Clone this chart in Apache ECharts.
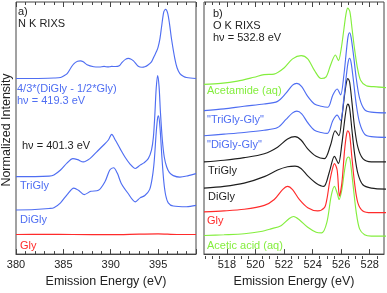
<!DOCTYPE html>
<html><head><meta charset="utf-8">
<script src="https://cdn.jsdelivr.net/npm/echarts@6/dist/echarts.min.js"></script>
<style>html,body{margin:0;padding:0;background:#fff}#c{width:387px;height:293px}</style>
</head><body><div id="c"></div>
<script>
// Panel a) N K RIXS — [emission energy (eV), offset intensity]
const nDiff = [[380,179],[382,179],[384,179.5],[384.7,180],[385.1,182],[385.4,184],[385.8,190],[386.1,194],[386.5,196.5],[386.8,197],[387.1,196],[387.5,193],[388.2,191],[388.8,190.7],[389.3,191.3],[389.7,190.8],[390.1,191.3],[390.5,191.2],[390.9,192],[391.2,195.5],[391.55,198.5],[391.86,199.5],[392.1,199],[392.4,197],[392.9,191.5],[393.3,190.5],[393.6,191],[393.9,192.5],[394.3,196],[394.6,202],[394.85,207],[395,211],[395.2,220],[395.37,232],[395.6,247],[395.79,249.5],[396,246],[396.2,235],[396.42,219],[396.77,199],[397,190],[397.3,184],[397.7,181],[398,180],[399,179]];
const nTriGly = [[380,79],[382,79],[383.5,79.5],[384,80.7],[384.7,85.7],[385.4,93],[386,97.3],[386.5,96.3],[387.1,94],[387.8,97.3],[388.5,104],[389.2,110.7],[389.75,116.3],[390.1,122],[390.5,116],[391,107.3],[391.5,99],[392,92.3],[392.6,87.3],[393.1,90.7],[393.5,93],[393.96,97.3],[394.3,106],[394.5,119],[394.65,141],[394.8,169],[394.95,182],[395.1,171],[395.25,144],[395.45,116],[395.65,99],[395.9,89],[396.2,83],[396.6,80],[397.3,78.5],[398.2,80],[399,82]];
const nDiGly = [[380,45],[382,45.5],[383.5,46.5],[384,47.3],[384.7,52.3],[385.4,60.7],[386.1,67.3],[386.6,65],[387.2,60.7],[387.9,64],[388.7,65],[389.4,74],[389.9,85.7],[390.3,88],[390.7,82.3],[391.1,72.3],[391.8,62.3],[392.6,53.3],[393.1,57.3],[393.6,59.7],[394.1,65.7],[394.4,79],[394.6,96],[394.8,124],[394.95,139],[395.05,141],[395.2,129],[395.4,99],[395.6,74],[395.8,60],[396.07,52.3],[396.6,49],[398,48.3],[399,49.7]];
const nGly = [[380,20],[383,20.2],[386,20],[390,19.8],[393,20.3],[395,20.6],[397,20],[399,20]];

// Panel b) O K RIXS
const oAcetamide = [[516.4,173],[517.57,174],[518.74,176.3],[519.9,180.3],[520.6,183],[521.3,183.5],[522,189.7],[522.6,199],[523.2,202.3],[523.66,199],[524.13,187.3],[524.6,179],[524.95,180.7],[525.25,192.3],[525.6,203],[525.81,197.3],[526,209],[526.19,229],[526.35,245.7],[526.47,250.7],[526.61,247.3],[526.77,229],[526.94,209],[527.13,190.7],[527.36,177.3],[527.76,171.7],[528.5,170.5],[529.16,169.7]];
const oTriGlyGly = [[516.4,146.3],[517.8,148],[519.2,150.7],[520.6,153],[521.55,155.7],[522.14,164],[522.6,172.3],[522.9,174],[523.24,170.7],[523.66,160.7],[524.13,153],[524.6,150.7],[525.07,149.7],[525.42,162.3],[525.72,168.3],[525.96,162.3],[526.19,182.3],[526.38,209],[526.49,222.3],[526.59,225.7],[526.7,220.7],[526.87,202.3],[527.06,179],[527.29,159],[527.64,147.3],[528.11,144.7],[529.16,144]];
const oDiGlyGly = [[516.4,120.7],[517.8,122.3],[519.2,124],[520.6,126.3],[521.55,129],[522.14,137.3],[522.6,144],[522.9,145.7],[523.24,143],[523.66,134],[524.13,126.3],[524.6,124],[525.03,123],[525.42,136.3],[525.72,141.7],[525.96,136.3],[526.19,159],[526.38,184],[526.49,195.7],[526.59,199.7],[526.7,195],[526.87,175.7],[527.06,152.3],[527.29,134],[527.64,122.3],[528.11,119.7],[529.16,119]];
const oTriGly = [[516.4,94],[517.8,95.7],[519.21,98.3],[520.62,102.3],[521.55,109],[522.25,117.3],[522.77,119.7],[523.19,116.3],[523.66,107.3],[524.25,99.7],[524.83,97.3],[525.25,110.7],[525.58,125.7],[525.84,120.7],[526.05,139],[526.24,162.3],[526.38,175.7],[526.47,179],[526.59,175.7],[526.75,155.7],[526.94,129],[527.17,109],[527.52,97.3],[528.11,94],[529.16,94]];
const oDiGly = [[516.4,67.3],[517.8,69],[519.21,72.3],[520.62,79],[521.55,85.7],[522.25,89],[522.77,89.7],[523.19,87.3],[523.66,79.7],[524.25,72.3],[524.78,69],[525.18,84],[525.53,99.7],[525.81,92.3],[526.05,112.3],[526.24,135.7],[526.38,149.7],[526.47,153],[526.59,149],[526.75,127.3],[526.94,102.3],[527.17,82.3],[527.52,70.7],[528.11,67.3],[529.16,66.3]];
const oGly = [[516.4,43],[517.8,44],[519.21,45.7],[520.62,49.7],[521.32,55.7],[521.9,65.7],[522.25,69],[522.6,65.7],[523.07,55.7],[523.66,47.3],[524.36,44],[524.83,47.3],[525,55.7],[525.18,72.3],[525.37,85.7],[525.53,92.3],[525.72,85.7],[525.88,59],[526.05,72.3],[526.24,105.7],[526.38,122.3],[526.47,125.7],[526.59,122.3],[526.75,99],[526.94,72.3],[527.17,52.3],[527.52,44],[528.11,42.3],[529.16,42.3]];
const oAcetic = [[516.4,19],[517.8,19.7],[519.21,20.7],[520.38,23],[521.08,25.7],[521.79,29],[522.37,36.3],[522.68,38.3],[523.07,35],[523.66,27.3],[524.25,22.3],[524.64,21.7],[525,32.3],[525.3,59],[525.53,69],[525.72,62.3],[525.86,55.7],[526.05,65.7],[526.24,85.7],[526.4,97.3],[526.52,99],[526.63,95.7],[526.82,72.3],[527.06,42.3],[527.29,25.7],[527.64,19.7],[528.11,18.3],[529.16,18.3]];

// Panel b tick values
const oMajorTicks = [518, 520, 522, 524, 526, 528];
const oMinorTicks = [516.5, 517, 517.5, 518.5, 519, 519.5, 520.5, 521, 521.5, 522.5, 523, 523.5, 524.5, 525, 525.5, 526.5, 527, 527.5, 528.5];

const BLUE = '#4f6ef2', RED = '#ff2b2b', GREEN = '#84ee3e', BLACK = '#1e1e1e', AX = '#444';
const FONT = 'Liberation Sans, Arial, sans-serif';

function line(data, color, xi) {
  return {type:'line', data, xAxisIndex: xi, yAxisIndex: xi < 2 ? 0 : 1, showSymbol:false,
    smooth:0.3, lineStyle:{color, width:1.15}, itemStyle:{color}, silent:true, animation:false};
}
const nameStyle = {fontSize:12.5, color:'#222', fontFamily:FONT};
function xAxA(pos) {
  const bottom = pos === 'bottom';
  return {type:'value', gridIndex:0, min:380, max:399, interval:5, position:pos,
    axisLine:{show:bottom, lineStyle:{color:AX}},
    axisTick:{show:true, inside:true, length:5, lineStyle:{color:AX}},
    minorTick:{show:true, splitNumber:5, length:3, lineStyle:{color:AX}},
    splitLine:{show:false}, minorSplitLine:{show:false},
    axisLabel:{show:bottom, margin:5, fontSize:11, color:'#222', fontFamily:FONT, showMaxLabel:false},
    name: bottom ? 'Emission Energy (eV)' : '', nameLocation:'middle', nameGap:18, nameTextStyle:nameStyle};
}
function xAxB(gi, pos, ticks, len, labels) {
  const bottom = pos === 'bottom';
  return {type:'value', gridIndex:gi, min:516.4, max:529, position:pos,
    axisLine:{show:bottom && labels, lineStyle:{color:AX}},
    axisTick:{show:true, inside:true, length:len, customValues:ticks, lineStyle:{color:AX}},
    minorTick:{show:false}, splitLine:{show:false},
    axisLabel:{show:bottom && labels, customValues:ticks, margin:5, fontSize:11, color:'#222', fontFamily:FONT},
    name: (bottom && labels) ? 'Emission Energy (eV)' : '', nameLocation:'middle', nameGap:18, nameTextStyle:nameStyle};
}
function txt(x, y, text, color) {
  return {type:'text', left:x, top:y - 7, style:{text, fill:color, font:'11px ' + FONT}};
}

const chart = echarts.init(document.getElementById('c'), null, {renderer:'canvas'});
chart.setOption({
  animation:false,
  grid:[
    {left:16, right:191, top:2, bottom:34, show:true, borderColor:AX, borderWidth:1},
    {left:204, right:3, top:2, bottom:34, show:true, borderColor:AX, borderWidth:1},
    {left:204, right:3, top:2, bottom:34, show:false}
  ],
  xAxis:[
    xAxA('bottom'),
    xAxA('top'),
    xAxB(1, 'bottom', oMajorTicks, 5, true),
    xAxB(1, 'top', oMajorTicks, 5, true),
    xAxB(2, 'bottom', oMinorTicks, 3, false),
    xAxB(2, 'top', oMinorTicks, 3, false)
  ],
  yAxis:[
    {type:'value', gridIndex:0, min:0, max:257, show:false},
    {type:'value', gridIndex:1, min:0, max:257, show:false},
    {type:'value', gridIndex:2, min:0, max:257, show:false}
  ],
  series:[
    line(nGly, RED, 0), line(nDiGly, BLUE, 0), line(nTriGly, BLUE, 0), line(nDiff, BLUE, 0),
    line(oAcetic, GREEN, 2), line(oGly, RED, 2), line(oDiGly, BLACK, 2), line(oTriGly, BLACK, 2),
    line(oDiGlyGly, BLUE, 2), line(oTriGlyGly, BLUE, 2), line(oAcetamide, GREEN, 2)
  ],
  graphic:[
    {type:'text', x:7, y:130, rotation:Math.PI/2, style:{text:'Normalized Intensity', fill:'#222', font:'12.5px ' + FONT, align:'center', verticalAlign:'middle'}},
    txt(18, 13, 'a)', '#222'),
    txt(18, 25, 'N K RIXS', '#222'),
    txt(17, 90, '4/3*(DiGly - 1/2*Gly)', BLUE),
    txt(17, 102, 'h\u03bd = 419.3 eV', BLUE),
    txt(22, 147, 'h\u03bd = 401.3 eV', '#222'),
    txt(20, 187, 'TriGly', BLUE),
    txt(20, 221, 'DiGly', BLUE),
    txt(20, 247, 'Gly', RED),
    txt(213, 15, 'b)', '#222'),
    txt(213, 27, 'O K RIXS', '#222'),
    txt(213, 39, 'h\u03bd = 532.8 eV', '#222'),
    txt(207, 92, 'Acetamide (aq)', GREEN),
    txt(207, 121, '"TriGly-Gly"', BLUE),
    txt(207, 146, '"DiGly-Gly"', BLUE),
    txt(208, 172, 'TriGly', BLACK),
    txt(208, 198, 'DiGly', BLACK),
    txt(207, 222, 'Gly', RED),
    txt(207, 247, 'Acetic acid (aq)', GREEN)
  ]
});
</script></body></html>
